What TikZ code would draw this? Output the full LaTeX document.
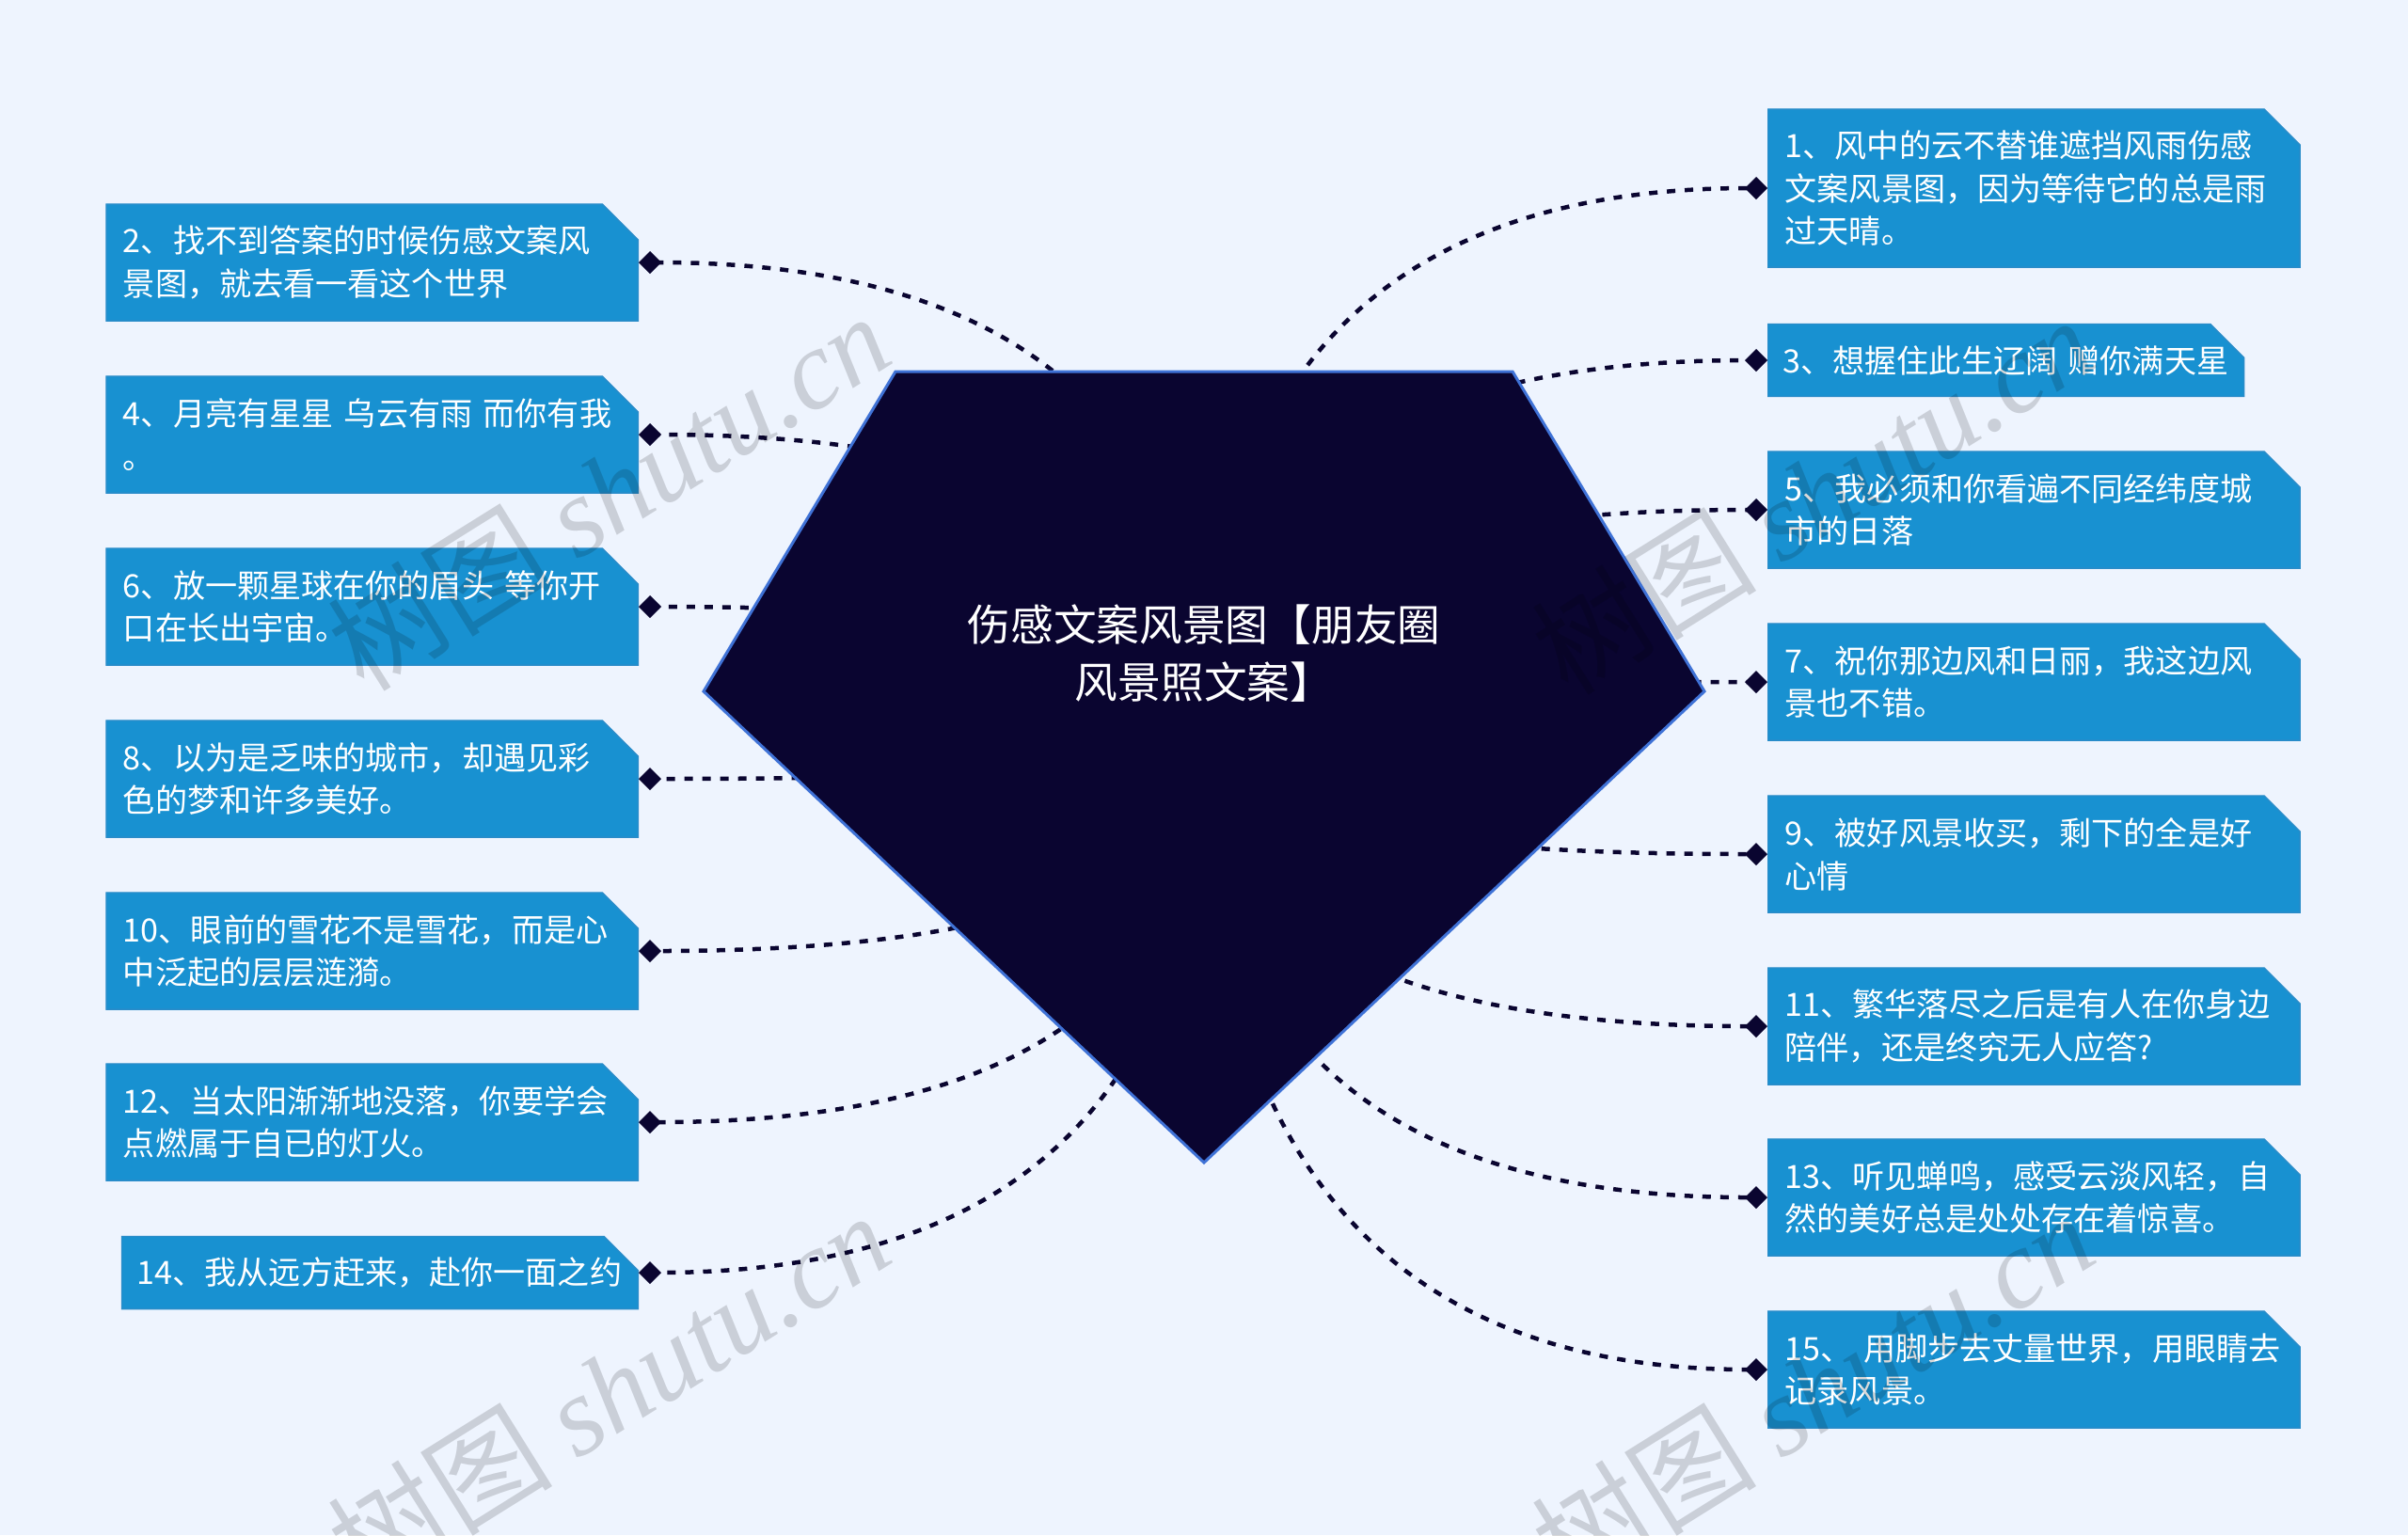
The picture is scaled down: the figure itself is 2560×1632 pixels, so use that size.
\documentclass[tikz,border=0pt]{standalone}
\usepackage{fontspec}
\setmainfont{Noto Sans CJK SC}
\newfontfamily\wmfont{Liberation Serif}
\usetikzlibrary{arrows.meta,calc,shapes.misc}

\definecolor{bgblue}{HTML}{EEF4FE}
\definecolor{boxblue}{HTML}{1891D1}
\definecolor{boxedge}{HTML}{2A8CC9}
\definecolor{gemnavy}{HTML}{0A0530}
\definecolor{gemrim}{HTML}{3F72D6}

\tikzset{
	leaf/.style={chamfered rectangle, chamfered rectangle corners=north east,
		chamfered rectangle xsep=0.18cm, chamfered rectangle ysep=0.2cm,
		fill=boxblue, draw=boxedge, line width=0.4pt, text=white,
		font=\fontsize{9.7pt}{13pt}\selectfont, align=left,
		text width=5.29cm, inner xsep=0pt, inner ysep=0pt, minimum height=#1},
	leaf/.default=1.24cm,
	link/.style={draw=gemnavy, line width=0.045cm, dash pattern=on 0.09cm off 0.1cm,
		-{Diamond[length=0.24cm, width=0.24cm]}},
	wmark/.style={rotate=32, text=black, text opacity=0.15, font=\fontsize{34pt}{34pt}\selectfont}
}

\begin{document}
\begin{tikzpicture}[x=0.01cm, y=-0.01cm]
	\useasboundingbox (0,0) rectangle (2560,1632);
	\fill[bgblue] (0,0) rectangle (2560,1632);
	\coordinate (ctr) at (1280,784);
	
	% ================= 左侧分支 =================
	\node[leaf, anchor=east] (n2) at (679,279) {2、找不到答案的时候伤感文案风\\景图，就去看一看这个世界};
	\node[leaf, anchor=east] (n4) at (679,462) {4、月亮有星星~乌云有雨~而你有我\\。};
	\node[leaf, anchor=east] (n6) at (679,645) {6、放一颗星球在你的眉头~等你开\\口在长出宇宙。};
	\node[leaf, anchor=east] (n8) at (679,828) {8、以为是乏味的城市，却遇见彩\\色的梦和许多美好。};
	\node[leaf, anchor=east] (n10) at (679,1011) {10、眼前的雪花不是雪花，而是心\\中泛起的层层涟漪。};
	\node[leaf, anchor=east] (n12) at (679,1193) {12、当太阳渐渐地没落，你要学会\\点燃属于自已的灯火。};
	\node[leaf=0.77cm, anchor=east, text width=5.16cm] (n14) at (679,1353) {14、我从远方赶来，赴你一面之约};
	
	% ================= 右侧分支 =================
	\node[leaf=1.68cm, anchor=west] (n1) at (1879,200) {1、风中的云不替谁遮挡风雨伤感\\文案风景图，因为等待它的总是雨\\过天晴。};
	\node[leaf=0.77cm, anchor=west, text width=4.74cm] (n3) at (1879,383) {3、想握住此生辽阔~赠你满天星};
	\node[leaf, anchor=west] (n5) at (1879,542) {5、我必须和你看遍不同经纬度城\\市的日落};
	\node[leaf, anchor=west] (n7) at (1879,725) {7、祝你那边风和日丽，我这边风\\景也不错。};
	\node[leaf, anchor=west] (n9) at (1879,908) {9、被好风景收买，剩下的全是好\\心情};
	\node[leaf, anchor=west] (n11) at (1879,1091) {11、繁华落尽之后是有人在你身边\\陪伴，还是终究无人应答?};
	\node[leaf, anchor=west] (n13) at (1879,1273) {13、听见蝉鸣，感受云淡风轻，自\\然的美好总是处处存在着惊喜。};
	\node[leaf, anchor=west] (n15) at (1879,1456) {15、 用脚步去丈量世界，用眼睛去\\记录风景。};
	
	% 连线 (从中心出发，末端为菱形)
	\draw[link] (ctr) .. controls ($(ctr)!.667!(ctr|-n2.east)$) and ($(n2.east)!.667!(ctr|-n2.east)$) .. (n2.east);
	\draw[link] (ctr) .. controls ($(ctr)!.667!(ctr|-n4.east)$) and ($(n4.east)!.667!(ctr|-n4.east)$) .. (n4.east);
	\draw[link] (ctr) .. controls ($(ctr)!.667!(ctr|-n6.east)$) and ($(n6.east)!.667!(ctr|-n6.east)$) .. (n6.east);
	\draw[link] (ctr) .. controls ($(ctr)!.667!(ctr|-n8.east)$) and ($(n8.east)!.667!(ctr|-n8.east)$) .. (n8.east);
	\draw[link] (ctr) .. controls ($(ctr)!.667!(ctr|-n10.east)$) and ($(n10.east)!.667!(ctr|-n10.east)$) .. (n10.east);
	\draw[link] (ctr) .. controls ($(ctr)!.667!(ctr|-n12.east)$) and ($(n12.east)!.667!(ctr|-n12.east)$) .. (n12.east);
	\draw[link] (ctr) .. controls ($(ctr)!.667!(ctr|-n14.east)$) and ($(n14.east)!.667!(ctr|-n14.east)$) .. (n14.east);
	\draw[link] (ctr) .. controls ($(ctr)!.667!(ctr|-n1.west)$) and ($(n1.west)!.667!(ctr|-n1.west)$) .. (n1.west);
	\draw[link] (ctr) .. controls ($(ctr)!.667!(ctr|-n3.west)$) and ($(n3.west)!.667!(ctr|-n3.west)$) .. (n3.west);
	\draw[link] (ctr) .. controls ($(ctr)!.667!(ctr|-n5.west)$) and ($(n5.west)!.667!(ctr|-n5.west)$) .. (n5.west);
	\draw[link] (ctr) .. controls ($(ctr)!.667!(ctr|-n7.west)$) and ($(n7.west)!.667!(ctr|-n7.west)$) .. (n7.west);
	\draw[link] (ctr) .. controls ($(ctr)!.667!(ctr|-n9.west)$) and ($(n9.west)!.667!(ctr|-n9.west)$) .. (n9.west);
	\draw[link] (ctr) .. controls ($(ctr)!.667!(ctr|-n11.west)$) and ($(n11.west)!.667!(ctr|-n11.west)$) .. (n11.west);
	\draw[link] (ctr) .. controls ($(ctr)!.667!(ctr|-n13.west)$) and ($(n13.west)!.667!(ctr|-n13.west)$) .. (n13.west);
	\draw[link] (ctr) .. controls ($(ctr)!.667!(ctr|-n15.west)$) and ($(n15.west)!.667!(ctr|-n15.west)$) .. (n15.west);
	
	% ================= 中心宝石 =================
	\filldraw[fill=gemnavy, draw=gemrim, line width=0.03cm] (952,395) -- (1608,395) -- (1812,735) -- (1280,1236) -- (748,735) -- cycle;
	\node[text=white, font=\fontsize{13pt}{17.3pt}\selectfont, align=center] (root) at (1280,695) {伤感文案风景图【朋友圈\\风景照文案】};
	
	% 水印
	\node[wmark] (wm1) at (647,522) {树图 {\wmfont\itshape shutu.cn}};
	\node[wmark] (wm2) at (1927,526) {树图 {\wmfont\itshape shutu.cn}};
	\node[wmark] (wm3) at (647,1478) {树图 {\wmfont\itshape shutu.cn}};
	\node[wmark] (wm4) at (1927,1478) {树图 {\wmfont\itshape shutu.cn}};
\end{tikzpicture}
\end{document}
